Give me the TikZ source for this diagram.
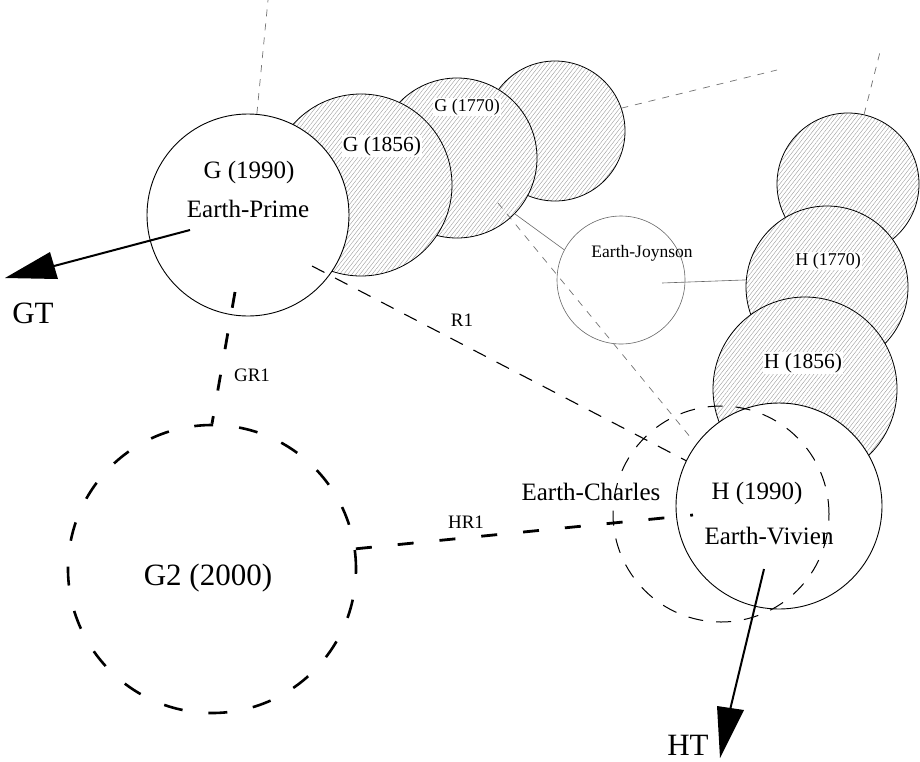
\documentclass[tikz,border=0pt]{standalone}
\usepackage{fontspec}
\setmainfont{Liberation Serif}
\usetikzlibrary{patterns.meta}
\begin{document}
\begin{tikzpicture}[x=1pt,y=-1pt,
  circ/.style={circle, inner sep=0pt, minimum size=#1},
  plain/.style={draw, line width=0.9pt, fill=white},
  hatch/.style={draw, line width=0.8pt, preaction={fill=white},
    pattern={Lines[angle=52,distance=3.2pt,line width=0.35pt]}, pattern color=black!42},
  thinsolid/.style={draw=black!60, line width=0.6pt},
  graydot/.style={draw=black!55, line width=0.7pt, dash pattern=on 7pt off 7pt},
  thindash/.style={draw, line width=1.1pt, dash pattern=on 14pt off 12pt},
  thickdash/.style={draw, line width=2.8pt, dash pattern=on 16pt off 26pt},
  ringdash/.style={draw, line width=2.6pt, dash pattern=on 19pt off 26pt},
  fsA/.style={font=\fontsize{25}{30}\selectfont, inner sep=0pt},
  fsB/.style={font=\fontsize{21.5}{26}\selectfont, fill=white, inner sep=1pt},
  fsC/.style={font=\fontsize{18}{22}\selectfont, fill=white, inner sep=1pt},
  fsD/.style={font=\fontsize{17.5}{21}\selectfont, inner sep=0pt},
  fsE/.style={font=\fontsize{19}{23}\selectfont, inner sep=0pt},
  fsF/.style={font=\fontsize{31}{36}\selectfont, inner sep=0pt},
  arrowline/.style={draw, line width=2pt},
]
\useasboundingbox (0,0) rectangle (920,761);

% G chain
\node[circ=140pt, hatch] (g4) at (555,131) {};
\node[circ=160pt, hatch] (g1770) at (457,158) {};
\node[circ=182pt, hatch] (g1856) at (361,185) {};
\node[circ=202pt, plain] (g1990) at (248,215) {};

% H chain
\node[circ=142pt, hatch] (htop) at (848,184) {};
\node[circ=162pt, hatch] (h1770) at (827,287) {};
\node[circ=184pt, hatch] (h1856) at (805,389) {};
\node[circ=206pt, plain] (h1990) at (779,506) {};

% Earth-Joynson
\node[circ=128pt, thinsolid] (joy) at (621,280) {};

% Earth-Charles
\node[circ=216pt, draw, line width=1pt, dash pattern=on 15pt off 13pt] (charles) at (721,514) {};

% G2
\node[circ=288pt, ringdash] (g2) at (212,569) {};

% coordinates
\coordinate (topG) at (268,0);
\coordinate (g4end) at (777,70);
\coordinate (htopend) at (880,52);
\coordinate (joyin) at (662,283);
\coordinate (dotA) at (498,203);
\coordinate (dotB) at (691,438);
\coordinate (r1start) at (312,266);
\coordinate (gr1start) at (235,292);
\coordinate (hr1end) at (693,515);
\coordinate (gtstart) at (190,230);
\coordinate (gtbase) at (54,266);
\coordinate (gttip) at (5,278);
\coordinate (gtc1) at (50,252);
\coordinate (gtc2) at (58,279);
\coordinate (htstart) at (764,569);
\coordinate (htbase) at (730,710);
\coordinate (httip) at (720,758);
\coordinate (htc1) at (717,706);
\coordinate (htc2) at (744,710);

% connectors
\draw[graydot] (g1990.85) -- (topG);
\draw[graydot] (g4.19) -- (g4end);
\draw[graydot] (htop.77) -- (htopend);
\draw[graydot] (dotA) -- (dotB);
\draw[thinsolid] (g1770.-44) -- (joy.152);
\draw[thinsolid] (joyin) -- (h1770.175);
\draw[thindash] (r1start) -- (h1990.154);
\draw[thickdash] (gr1start) -- (g2.north);
\draw[thickdash] (g2.8) -- (hr1end);
\draw[arrowline] (gtstart) -- (gtbase);
\fill (gttip) -- (gtc1) -- (gtc2) -- cycle;
\draw[arrowline] (htstart) -- (htbase);
\fill (httip) -- (htc1) -- (htc2) -- cycle;

% labels
\node[fsA] (lg1990) at (249,172) {G (1990)};
\node[fsA] (lprime) at (248,209) {Earth-Prime};
\node[fsB] (lg1856) at (382,146) {G (1856)};
\node[fsC] (lg1770) at (467,107) {G (1770)};
\node[fsD] (ljoy) at (642,253) {Earth-Joynson};
\node[fsC] (lh1770) at (828,261) {H (1770)};
\node[fsB] (lh1856) at (803,363) {H (1856)};
\node[fsA] (lh1990) at (757,493) {H (1990)};
\node[fsA] (lvivien) at (769,536) {Earth-Vivien};
\node[fsA] (lcharles) at (591,492) {Earth-Charles};
\node[fsF] (lg2) at (208,578) {G2 (2000)};
\node[fsE] (lr1) at (462,320) {R1};
\node[fsE] (lgr1) at (252,375) {GR1};
\node[fsE] (lhr1) at (466,522) {HR1};
\node[fsF] (lgt) at (33,313) {GT};
\node[fsF] (lht) at (688,745) {HT};
\end{tikzpicture}
\end{document}
